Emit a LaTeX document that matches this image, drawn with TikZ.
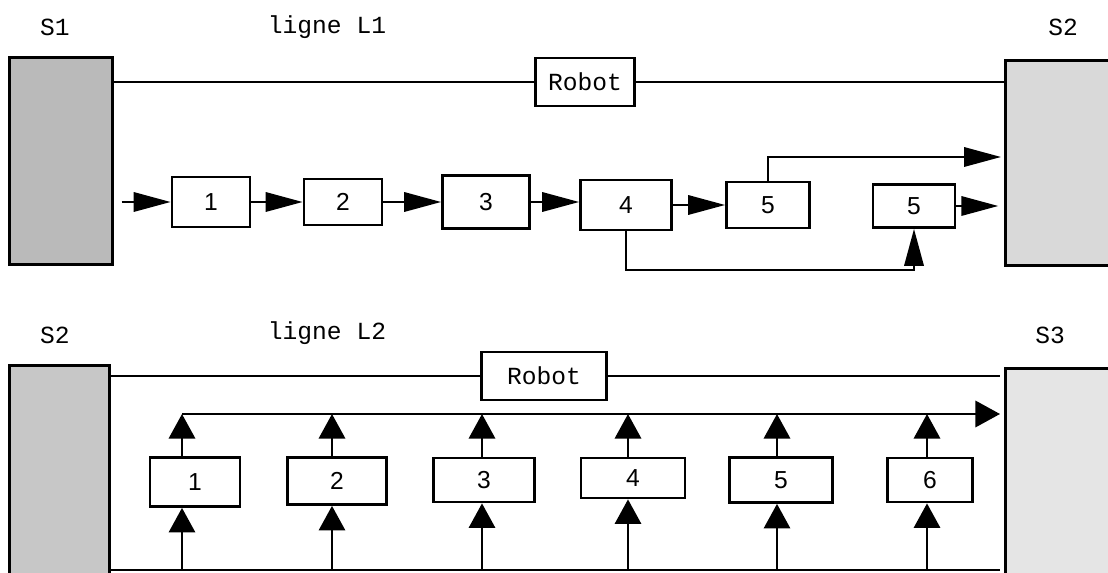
\documentclass[tikz,border=0pt]{standalone}
\usepackage{fontspec}
\setmainfont{Liberation Mono}
\newfontfamily\digfont{Liberation Sans}
\usetikzlibrary{arrows.meta}

\tikzset{
  stock/.style={draw, line width=1.7pt, inner sep=0pt},
  cell/.style={draw, line width=1.6pt, inner sep=0pt, font=\digfont\fontsize{14}{16}\selectfont},
  robotbox/.style={draw, line width=1.6pt, inner sep=0pt, minimum height=0.96cm, font=\fontsize{14}{16}\selectfont},
  lbl/.style={font=\fontsize{14}{16}\selectfont},
  rail/.style={line width=1.3pt},
  flowA/.style={line width=1.3pt, -{Triangle[length=21pt,width=11pt]}},
  flowB/.style={line width=1.3pt, -{Triangle[length=14pt,width=15pt]}},
}

\begin{document}
\begin{tikzpicture}[x=0.02cm, y=-0.02cm]
            \useasboundingbox (0,0) rectangle (1108,573);
            % ligne L1
            \node[lbl] (t1) at (55,27) {S1};
            \node[lbl] (t2) at (327,27) {ligne L1};
            \node[lbl] (t3) at (1063,27) {S2};
            \node[stock, fill=black!27, minimum width=2.08cm, minimum height=4.16cm] (s1) at (61,161) {};
            \node[stock, fill=black!15, minimum width=2.2cm, minimum height=4.12cm] (s2a) at (1060,163) {};
            \node[robotbox, minimum width=1.98cm] (r1) at (585,82) {Robot};
            \node[cell, minimum width=1.56cm, minimum height=1.0cm] (a1) at (211,202) {1};
            \node[cell, minimum width=1.56cm, minimum height=0.92cm] (a2) at (343,202) {2};
            \node[cell, minimum width=1.74cm, minimum height=1.06cm] (a3) at (486,202) {3};
            \node[cell, minimum width=1.82cm, minimum height=1.0cm] (a4) at (626,205) {4};
            \node[cell, minimum width=1.66cm, minimum height=0.92cm] (a5) at (768,205) {5};
            \node[cell, minimum width=1.64cm, minimum height=0.86cm] (a6) at (914,206) {5};
            \coordinate (in1) at (1001,157);
            \coordinate (low) at (0,270);
            \draw[rail] (s1.east |- r1) -- (r1) -- (s2a.west |- r1);
            \draw[flowA, shorten <=4pt] (s1.east |- a1) -- (a1);
            \draw[flowA] (a1) -- (a2);
            \draw[flowA] (a2) -- (a3);
            \draw[flowA] (a3.east) -- (a3.east -| a4.west);
            \draw[flowA] (a4) -- (a5);
            \draw[flowA] (a5.north) |- (in1);
            \draw[flowA, shorten >=3pt] (a6) -- (a6 -| s2a.west);
            \draw[flowA] (a4.south) -- (a4.south |- low) -| (a6.south);
            % ligne L2
            \node[lbl] (t4) at (55,335) {S2};
            \node[lbl] (t5) at (327,333) {ligne L2};
            \node[lbl] (t6) at (1050,335) {S3};
            \node[stock, fill=black!22, minimum width=2.02cm, minimum height=4.3cm] (s2b) at (59.5,472.5) {};
            \node[stock, fill=black!10, minimum width=2.2cm, minimum height=4.24cm] (s3) at (1060,474) {};
            \node[robotbox, minimum width=2.5cm] (r2) at (544,376) {Robot};
            \node[cell, minimum width=1.8cm, minimum height=0.98cm] (b1) at (195,482) {1};
            \node[cell, minimum width=1.98cm, minimum height=0.94cm] (b2) at (337,481) {2};
            \node[cell, minimum width=2.02cm, minimum height=0.88cm] (b3) at (484,480) {3};
            \node[cell, minimum width=2.08cm, minimum height=0.8cm] (b4) at (633,478) {4};
            \node[cell, minimum width=2.06cm, minimum height=0.9cm] (b5) at (781,480) {5};
            \node[cell, minimum width=1.7cm, minimum height=0.88cm] (b6) at (930,480) {6};
            \coordinate (cstart) at (182,414);
            \coordinate (cend) at (1000,414);
            \coordinate (bend) at (1000,570);
            \coordinate (p1) at (182,570);
            \coordinate (p2) at (332,570);
            \coordinate (p3) at (482,570);
            \coordinate (p4) at (628,570);
            \coordinate (p5) at (777,570);
            \coordinate (p6) at (927,570);
            \draw[rail] (s2b.east |- r2) -- (r2) -- (r2 -| cend);
            \draw[rail] (s2b.east |- bend) -- (bend);
            \draw[flowB] (cstart) -- (cend);
            \draw[flowB] (p1) -- (p1 |- b1.south);
            \draw[flowB] (p2) -- (p2 |- b2.south);
            \draw[flowB] (p3) -- (p3 |- b3.south);
            \draw[flowB] (p4) -- (p4 |- b4.south);
            \draw[flowB] (p5) -- (p5 |- b5.south);
            \draw[flowB] (p6) -- (p6 |- b6.south);
            \draw[flowB] (p1 |- b1.north) -- (p1 |- cstart);
            \draw[flowB] (p2 |- b2.north) -- (p2 |- cstart);
            \draw[flowB] (p3 |- b3.north) -- (p3 |- cstart);
            \draw[flowB] (p4 |- b4.north) -- (p4 |- cstart);
            \draw[flowB] (p5 |- b5.north) -- (p5 |- cstart);
            \draw[flowB] (p6 |- b6.north) -- (p6 |- cstart);
        \end{tikzpicture}
\end{document}
